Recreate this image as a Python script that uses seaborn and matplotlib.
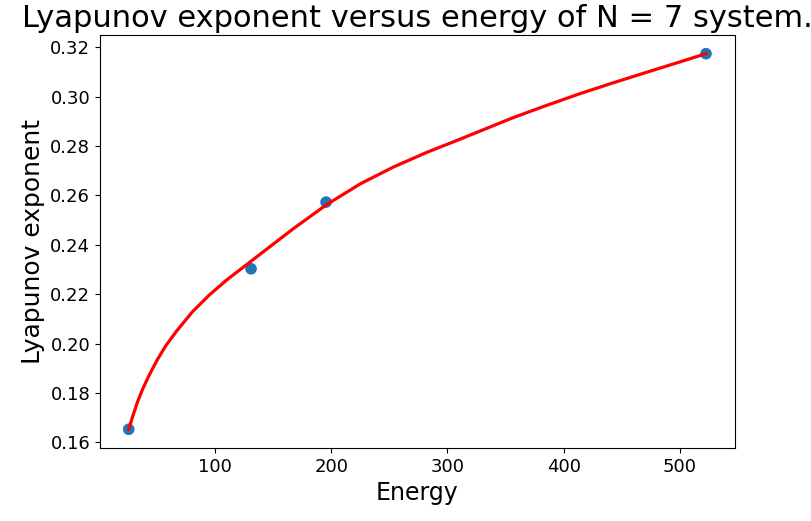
import matplotlib
matplotlib.use("Agg")
import matplotlib.pyplot as plt
import seaborn as sns
import pandas as pd

# measured points
energy = [25.6, 130.9, 195.5, 522.6]
lyapunov = [0.1653, 0.2303, 0.2573, 0.3174]

# fitted curve
curve_energy = [25.6, 29.0, 33.0, 37.5, 43.0, 50.0, 57.3, 67.0, 80.3, 95.0,
                110.0, 131.0, 139.0, 167.5, 196.0, 225.0, 253.0, 282.0, 311.0,
                356.0, 385.0, 414.0, 442.0, 471.0, 499.0, 522.6]
curve_lyapunov = [0.1653, 0.1705, 0.1762, 0.1815, 0.1870, 0.1933, 0.1990, 0.2052,
                  0.2128, 0.2197, 0.2258, 0.2334, 0.2363, 0.2466, 0.2563, 0.2647,
                  0.2714, 0.2774, 0.2828, 0.2914, 0.2964, 0.3012, 0.3055, 0.3098,
                  0.3139, 0.3174]

points = pd.DataFrame({"Energy": energy, "Lyapunov": lyapunov})
curve = pd.DataFrame({"Energy": curve_energy, "Lyapunov": curve_lyapunov})

fig, ax = plt.subplots(figsize=(8.12, 5.21), dpi=100)
fig.subplots_adjust(left=0.123, right=0.905, top=0.933, bottom=0.140)

sns.scatterplot(data=points, x="Energy", y="Lyapunov", ax=ax,
                color="#1f77b4", s=70, edgecolor="none", zorder=2)
sns.lineplot(data=curve, x="Energy", y="Lyapunov", ax=ax,
             color="red", linewidth=2.3, zorder=3)

ax.set_title("Lyapunov exponent versus energy of N = 7 system.", fontsize=22)
ax.set_xlabel("Energy", fontsize=17)
ax.set_ylabel("Lyapunov exponent", fontsize=18)
ax.tick_params(labelsize=13)

fig.savefig("out.png", dpi=100)
